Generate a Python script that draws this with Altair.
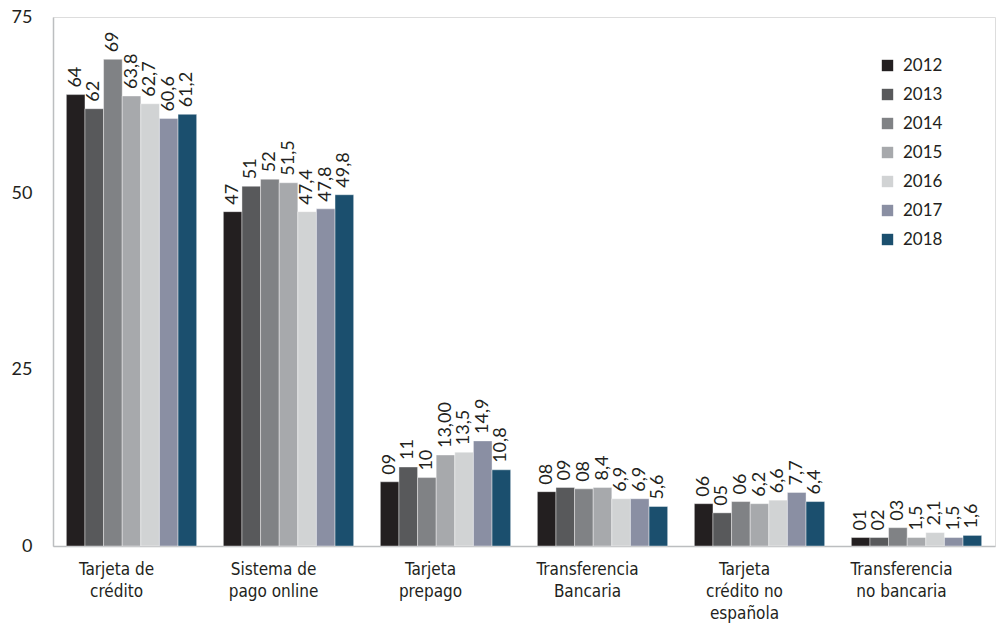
import altair as alt
import pandas as pd

categories = ["Tarjeta de\ncrédito", "Sistema de\npago online", "Tarjeta\nprepago",
              "Transferencia\nBancaria", "Tarjeta\ncrédito no\nespañola", "Transferencia\nno bancaria"]
years = ["2012", "2013", "2014", "2015", "2016", "2017", "2018"]
colors = ["#231f20", "#58595b", "#808285", "#a7a9ac", "#d1d3d4", "#8a8fa3", "#1b4f6e"]

# bar heights per category (one value per year)
values = [
    [64.0, 62.0, 69.0, 63.8, 62.7, 60.6, 61.2],
    [47.4, 51.0, 52.0, 51.5, 47.4, 47.8, 49.8],
    [9.1, 11.2, 9.7, 12.9, 13.3, 14.9, 10.8],
    [7.7, 8.3, 8.1, 8.3, 6.7, 6.7, 5.6],
    [6.0, 4.7, 6.3, 6.0, 6.5, 7.6, 6.3],
    [1.2, 1.2, 2.6, 1.2, 1.9, 1.2, 1.5],
]
# printed labels
labels = [
    ["64", "62", "69", "63,8", "62,7", "60,6", "61,2"],
    ["47", "51", "52", "51,5", "47,4", "47,8", "49,8"],
    ["09", "11", "10", "13,00", "13,5", "14,9", "10,8"],
    ["08", "09", "08", "8,4", "6,9", "6,9", "5,6"],
    ["06", "05", "06", "6,2", "6,6", "7,7", "6,4"],
    ["01", "02", "03", "1,5", "2,1", "1,5", "1,6"],
]

rows = []
for ci, c in enumerate(categories):
    for yi, y in enumerate(years):
        rows.append({"cat": c, "year": y, "value": values[ci][yi], "label": labels[ci][yi]})
df = pd.DataFrame(rows)

FONT = "Lato"
TXT = "#231f20"

x = alt.X("cat:N", sort=categories, title=None,
          scale=alt.Scale(paddingInner=0.17, paddingOuter=0.085),
          axis=alt.Axis(labelExpr="split(datum.label, '\\n')", labelAngle=0,
                        labelFontSize=17, labelLineHeight=22, labelPadding=15,
                        labelOffset=-15, labelColor=TXT,
                        labelFont="Liberation Sans Narrow, DejaVu Sans Condensed, sans-serif",
                        ticks=False, domainColor="#bcbec0", domainWidth=1.5,
                        labelBaseline="top"))
xo = alt.XOffset("year:N", sort=years, scale=alt.Scale(paddingInner=0, paddingOuter=0))
y = alt.Y("value:Q", title=None,
          scale=alt.Scale(domain=[0, 75], nice=False),
          axis=alt.Axis(values=[0, 25, 50, 75], grid=False, ticks=False,
                        labelFontSize=18, labelPadding=21, labelColor=TXT,
                        labelFont=FONT, domainColor="#bcbec0", domainWidth=1.5))

bars = alt.Chart(df).mark_bar(stroke="white", strokeWidth=0.4).encode(
    x=x, xOffset=xo, y=y,
    color=alt.Color("year:N", sort=years,
                    scale=alt.Scale(domain=years, range=colors),
                    legend=alt.Legend(title=None, orient="none", legendX=826, legendY=40,
                                      symbolType="square", symbolSize=130,
                                      symbolStrokeWidth=0, labelFontSize=17,
                                      labelFont=FONT, labelColor=TXT,
                                      rowPadding=11, labelOffset=7)),
)

text = alt.Chart(df).mark_text(angle=270, align="left", baseline="middle", dx=7,
                               fontSize=18, font=FONT, color=TXT).encode(
    x=alt.X("cat:N", sort=categories), xOffset=xo, y="value:Q", text="label:N")

chart = (bars + text).properties(
    width=942, height=529,
    autosize=alt.AutoSizeParams(type="none"),
    padding={"left": 53, "top": 17, "right": 1, "bottom": 81},
).configure_view(stroke=None).configure(background="white")

chart.save("out.html", embed_options={"renderer": "svg", "actions": False})
